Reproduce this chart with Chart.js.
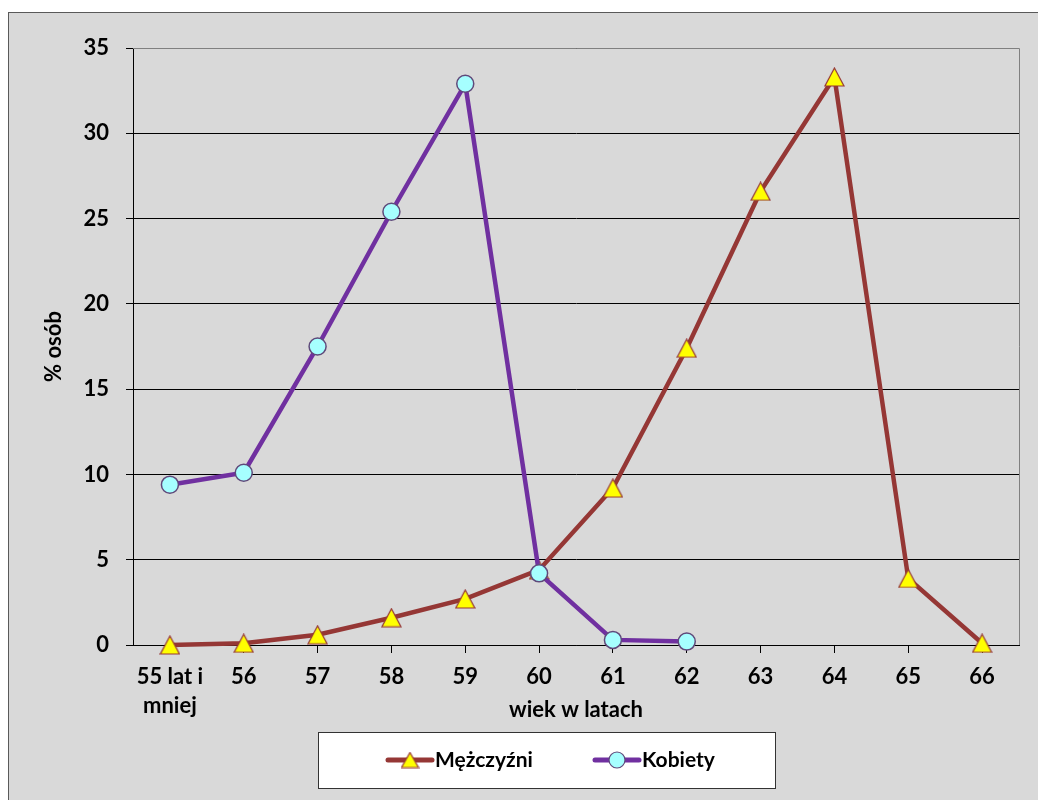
<!DOCTYPE html>
<html>
<head>
<meta charset="utf-8">
<script src="https://cdn.jsdelivr.net/npm/chart.js@4"></script>
<style>
  body { margin: 0; background: #fff; overflow: hidden; }
  #box {
    position: absolute; left: 8px; top: 12px;
    width: 1030px; height: 788px;
    background: #d9d9d9;
    border-left: 1px solid #595959; border-top: 1px solid #595959;
  }
</style>
</head>
<body>
<div id="box"><canvas id="wiekChart" width="1030" height="788"></canvas></div>
<script>
// data
var categories = [["55 lat i", "mniej"], "56", "57", "58", "59", "60", "61", "62", "63", "64", "65", "66"];
var mezczyzni = [0, 0.1, 0.6, 1.6, 2.7, 4.4, 9.2, 17.4, 26.6, 33.3, 3.9, 0.1];
var kobiety = [9.4, 10.1, 17.5, 25.4, 32.9, 4.2, 0.3, 0.2, null, null, null, null];
var seriesNames = ["Mężczyźni", "Kobiety"];

var FONT = "Lato, 'Open Sans', sans-serif";
var RED = "#953735";
var PURPLE = "#7030a0";

// excel style triangle: centred on its box, not on its centroid
function makeTriangle(w, h) {
  var c = document.createElement("canvas");
  c.width = w + 2; c.height = h + 2;
  var g = c.getContext("2d");
  g.fillStyle = "#ffff00";
  g.strokeStyle = RED;
  g.lineWidth = 1.2;
  g.beginPath();
  g.moveTo(c.width / 2, 1);
  g.lineTo(w + 1, h + 1);
  g.lineTo(1, h + 1);
  g.closePath();
  g.fill();
  g.stroke();
  return c;
}
var triBig = makeTriangle(19, 18);
var triSmall = makeTriangle(17, 15);

// plot frame (top + right) and the legend box under the chart
var framePlugin = {
  id: "frame",
  afterDraw: function (chart) {
    var ctx = chart.ctx;
    var a = chart.chartArea;
    ctx.save();
    ctx.strokeStyle = "#808080";
    ctx.lineWidth = 1;
    ctx.beginPath();
    ctx.moveTo(a.left, a.top + 0.5);
    ctx.lineTo(a.right + 0.5, a.top + 0.5);
    ctx.lineTo(a.right + 0.5, a.bottom);
    ctx.stroke();

    // legend
    ctx.fillStyle = "#fff";
    ctx.fillRect(309, 719, 457, 56);
    ctx.strokeStyle = "#333";
    ctx.strokeRect(309.5, 719.5, 457, 56);

    var y = 747;
    var items = [
      { x: 379, color: RED, name: seriesNames[0], tri: true },
      { x: 586, color: PURPLE, name: seriesNames[1], tri: false }
    ];
    items.forEach(function (it) {
      ctx.strokeStyle = it.color;
      ctx.lineWidth = 5;
      ctx.lineCap = "round";
      ctx.beginPath();
      ctx.moveTo(it.x, y);
      ctx.lineTo(it.x + 44, y);
      ctx.stroke();
      var cx = it.x + 22;
      ctx.lineWidth = 1.2;
      if (it.tri) {
        ctx.drawImage(triSmall, cx - triSmall.width / 2, y - triSmall.height / 2);
      } else {
        ctx.fillStyle = "#a6ffff";
        ctx.strokeStyle = "#5f497a";
        ctx.beginPath();
        ctx.arc(cx, y, 8, 0, Math.PI * 2);
        ctx.fill();
        ctx.stroke();
      }
      ctx.fillStyle = "#000";
      ctx.font = "bold 21px " + FONT;
      ctx.textBaseline = "middle";
      ctx.textAlign = "left";
      ctx.fillText(it.name, it.x + 47, y);
    });
    ctx.restore();
  }
};

var chart = new Chart("wiekChart", {
  type: "line",
  data: {
    labels: categories,
    datasets: [{
      label: seriesNames[0],
      data: mezczyzni,
      order: 1,
      clip: false,
      borderColor: RED,
      borderWidth: 4.5,
      pointStyle: triBig,
      pointRadius: 10,
      tension: 0
    }, {
      label: seriesNames[1],
      data: kobiety,
      order: 0,
      clip: false,
      borderColor: PURPLE,
      borderWidth: 4.5,
      pointStyle: "circle",
      pointRadius: 8.5,
      pointBackgroundColor: "#a6ffff",
      pointBorderColor: "#5f497a",
      pointBorderWidth: 1.5,
      tension: 0
    }]
  },
  options: {
    responsive: false,
    animation: false,
    layout: { padding: { left: 0, right: 20, top: 35, bottom: 74 } },
    plugins: { legend: { display: false }, tooltip: { enabled: false } },
    scales: {
      x: {
        offset: true,
        grid: { drawOnChartArea: false, color: "#000", tickLength: 8 },
        border: { color: "#000", width: 1 },
        ticks: { color: "#000", padding: 10, font: { family: FONT, size: 22, weight: "bold", lineHeight: 1.3 }, maxRotation: 0, autoSkip: false },
        title: { display: true, text: "wiek w latach", color: "#000", padding: { top: 4, bottom: 4 }, font: { family: FONT, size: 22, weight: "bold", lineHeight: 1.2 } },
        afterFit: function (s) { s.height = 82; }
      },
      y: {
        min: 0, max: 35,
        grid: { color: "#000", tickLength: 7 },
        border: { color: "#000", width: 1 },
        ticks: { stepSize: 5, color: "#000", padding: 17, font: { family: FONT, size: 22, weight: "bold" } },
        title: { display: true, text: "% osób", color: "#000", padding: { top: 32, bottom: 4 }, font: { family: FONT, size: 22, weight: "bold", lineHeight: 1.2 } },
        afterFit: function (s) { s.width = 124; }
      }
    }
  },
  plugins: [framePlugin]
});
</script>
</body>
</html>
